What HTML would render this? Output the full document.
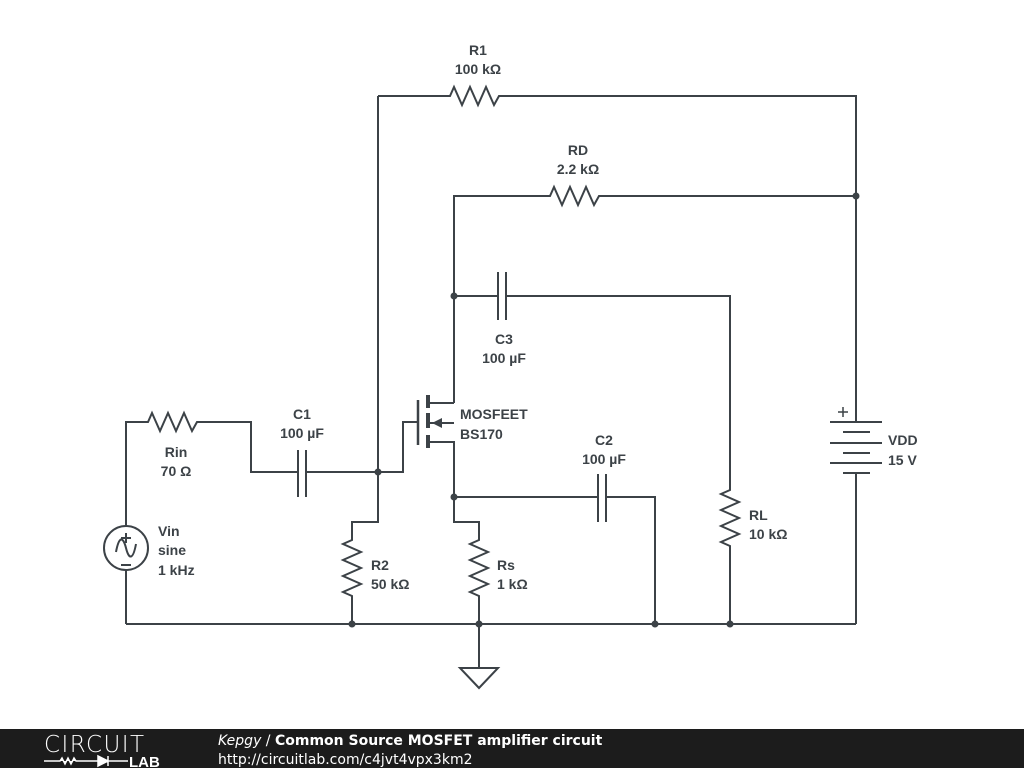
<!DOCTYPE html>
<html><head><style>
body{margin:0;width:1024px;height:768px;background:#fff;overflow:hidden;font-family:"Liberation Sans",sans-serif}
svg{position:absolute;left:0;top:0}
.t{font-family:"Liberation Sans",sans-serif;font-weight:bold;font-size:14px;fill:#3c4247}
</style></head><body>
<svg width="1024" height="768" viewBox="0 0 1024 768">
<g stroke="#3c4247" stroke-width="2" fill="none" stroke-linejoin="miter">
<path d="M126 624 H856"/>
<path d="M126 526 V422 H148 l4 -9 l8 18 l8 -18 l8 18 l8 -18 l8 18 l5 -9 H251 V472 H298"/>
<path d="M126 570 V624"/>
<circle cx="126" cy="548" r="22"/>
<path d="M116 552 C119 536 123 536 126 548 C129 560 133 560 136 544"/>
<path d="M121 538 h10 M126 533 v10 M121 565 h10"/>
<path d="M298 450 V497 M306 450 V497"/>
<path d="M306 472 H403 V422 H418"/>
<path d="M418 400 V445" stroke-width="2.5"/>
<path d="M378 96 V522 H352 V540 l-9 4 l18 8 l-18 8 l18 8 l-18 8 l18 8 l-18 8 l9 4 V624"/>
<path d="M378 96 H450 l4 -9 l8 18 l8 -18 l8 18 l8 -18 l8 18 l5 -9 H856 V422"/>
<path d="M454 403 V196 H550 l4 -9 l8 18 l8 -18 l8 18 l8 -18 l8 18 l5 -9 H856"/>
<path d="M454 296 H498 M498 272 V320 M506 272 V320 M506 296 H730 V490 l-9 4 l18 8 l-18 8 l18 8 l-18 8 l18 8 l-18 8 l9 4 V624"/>
<path d="M428 395 V408 M428 413 V428 M428 435 V448" stroke-width="4"/>
<path d="M428 403 H454 M454 423 H430 M428 442 H454 V522 H479 V540 l-9 4 l18 8 l-18 8 l18 8 l-18 8 l18 8 l-18 8 l9 4 V668"/>
<path d="M454 497 H598 M598 474 V522 M606 474 V522 M606 497 H655 V624"/>
<path d="M830 422 H882 M843 432 H870 M830 443 H882 M843 453 H870 M830 463 H882 M843 473 H870 M856 473 V624"/>
<path d="M838 412 h10 M843 407 v10" stroke-width="1.5"/>
<path d="M460 668 H498 L479 688 Z"/>
</g>
<path d="M432 423 L442 418 L442 428 Z" fill="#3c4247"/>
<g fill="#3c4247">
<circle cx="378" cy="472" r="3.5"/><circle cx="454" cy="296" r="3.5"/><circle cx="454" cy="497" r="3.5"/>
<circle cx="856" cy="196" r="3.5"/><circle cx="352" cy="624" r="3.5"/><circle cx="479" cy="624" r="3.5"/>
<circle cx="655" cy="624" r="3.5"/><circle cx="730" cy="624" r="3.5"/>
</g>
<g class="t">
<text x="478" y="55" text-anchor="middle">R1</text><text x="478" y="74" text-anchor="middle">100 kΩ</text>
<text x="578" y="155" text-anchor="middle">RD</text><text x="578" y="174" text-anchor="middle">2.2 kΩ</text>
<text x="504" y="344" text-anchor="middle">C3</text><text x="504" y="363" text-anchor="middle">100 µF</text>
<text x="302" y="419" text-anchor="middle">C1</text><text x="302" y="438" text-anchor="middle">100 µF</text>
<text x="604" y="445" text-anchor="middle">C2</text><text x="604" y="464" text-anchor="middle">100 µF</text>
<text x="176" y="457" text-anchor="middle">Rin</text><text x="176" y="476" text-anchor="middle">70 Ω</text>
<text x="460" y="419">MOSFEET</text><text x="460" y="439">BS170</text>
<text x="158" y="536">Vin</text><text x="158" y="555">sine</text><text x="158" y="575">1 kHz</text>
<text x="371" y="570">R2</text><text x="371" y="589">50 kΩ</text>
<text x="497" y="570">Rs</text><text x="497" y="589">1 kΩ</text>
<text x="749" y="520">RL</text><text x="749" y="539">10 kΩ</text>
<text x="888" y="445">VDD</text><text x="888" y="465">15 V</text>
</g>
<rect x="0" y="729" width="1024" height="39" fill="#1c1c1c"/>
<text x="44" y="752" font-family="DejaVu Sans" font-weight="200" font-size="23" fill="#fff" textLength="100">CIRCUIT</text>
<path d="M44 761 H60 l2 -3 l3 6 l3 -6 l3 6 l3 -6 l2 3 H98 M98 756 V766 L108 761 Z M108 756 V766 M108 761 H128" stroke="#fff" stroke-width="1.5" fill="#fff"/>
<text x="129" y="767" font-family="Liberation Sans" font-weight="bold" font-size="15" fill="#fff">LAB</text>
<text x="218" y="745" font-family="DejaVu Sans" font-size="14" fill="#fff"><tspan font-style="italic">Kepgy</tspan> / <tspan font-weight="bold">Common Source MOSFET amplifier circuit</tspan></text>
<text x="218" y="764" font-family="DejaVu Sans" font-size="14" fill="#fff">http://circuitlab.com/c4jvt4vpx3km2</text>
</svg>
</body></html>
